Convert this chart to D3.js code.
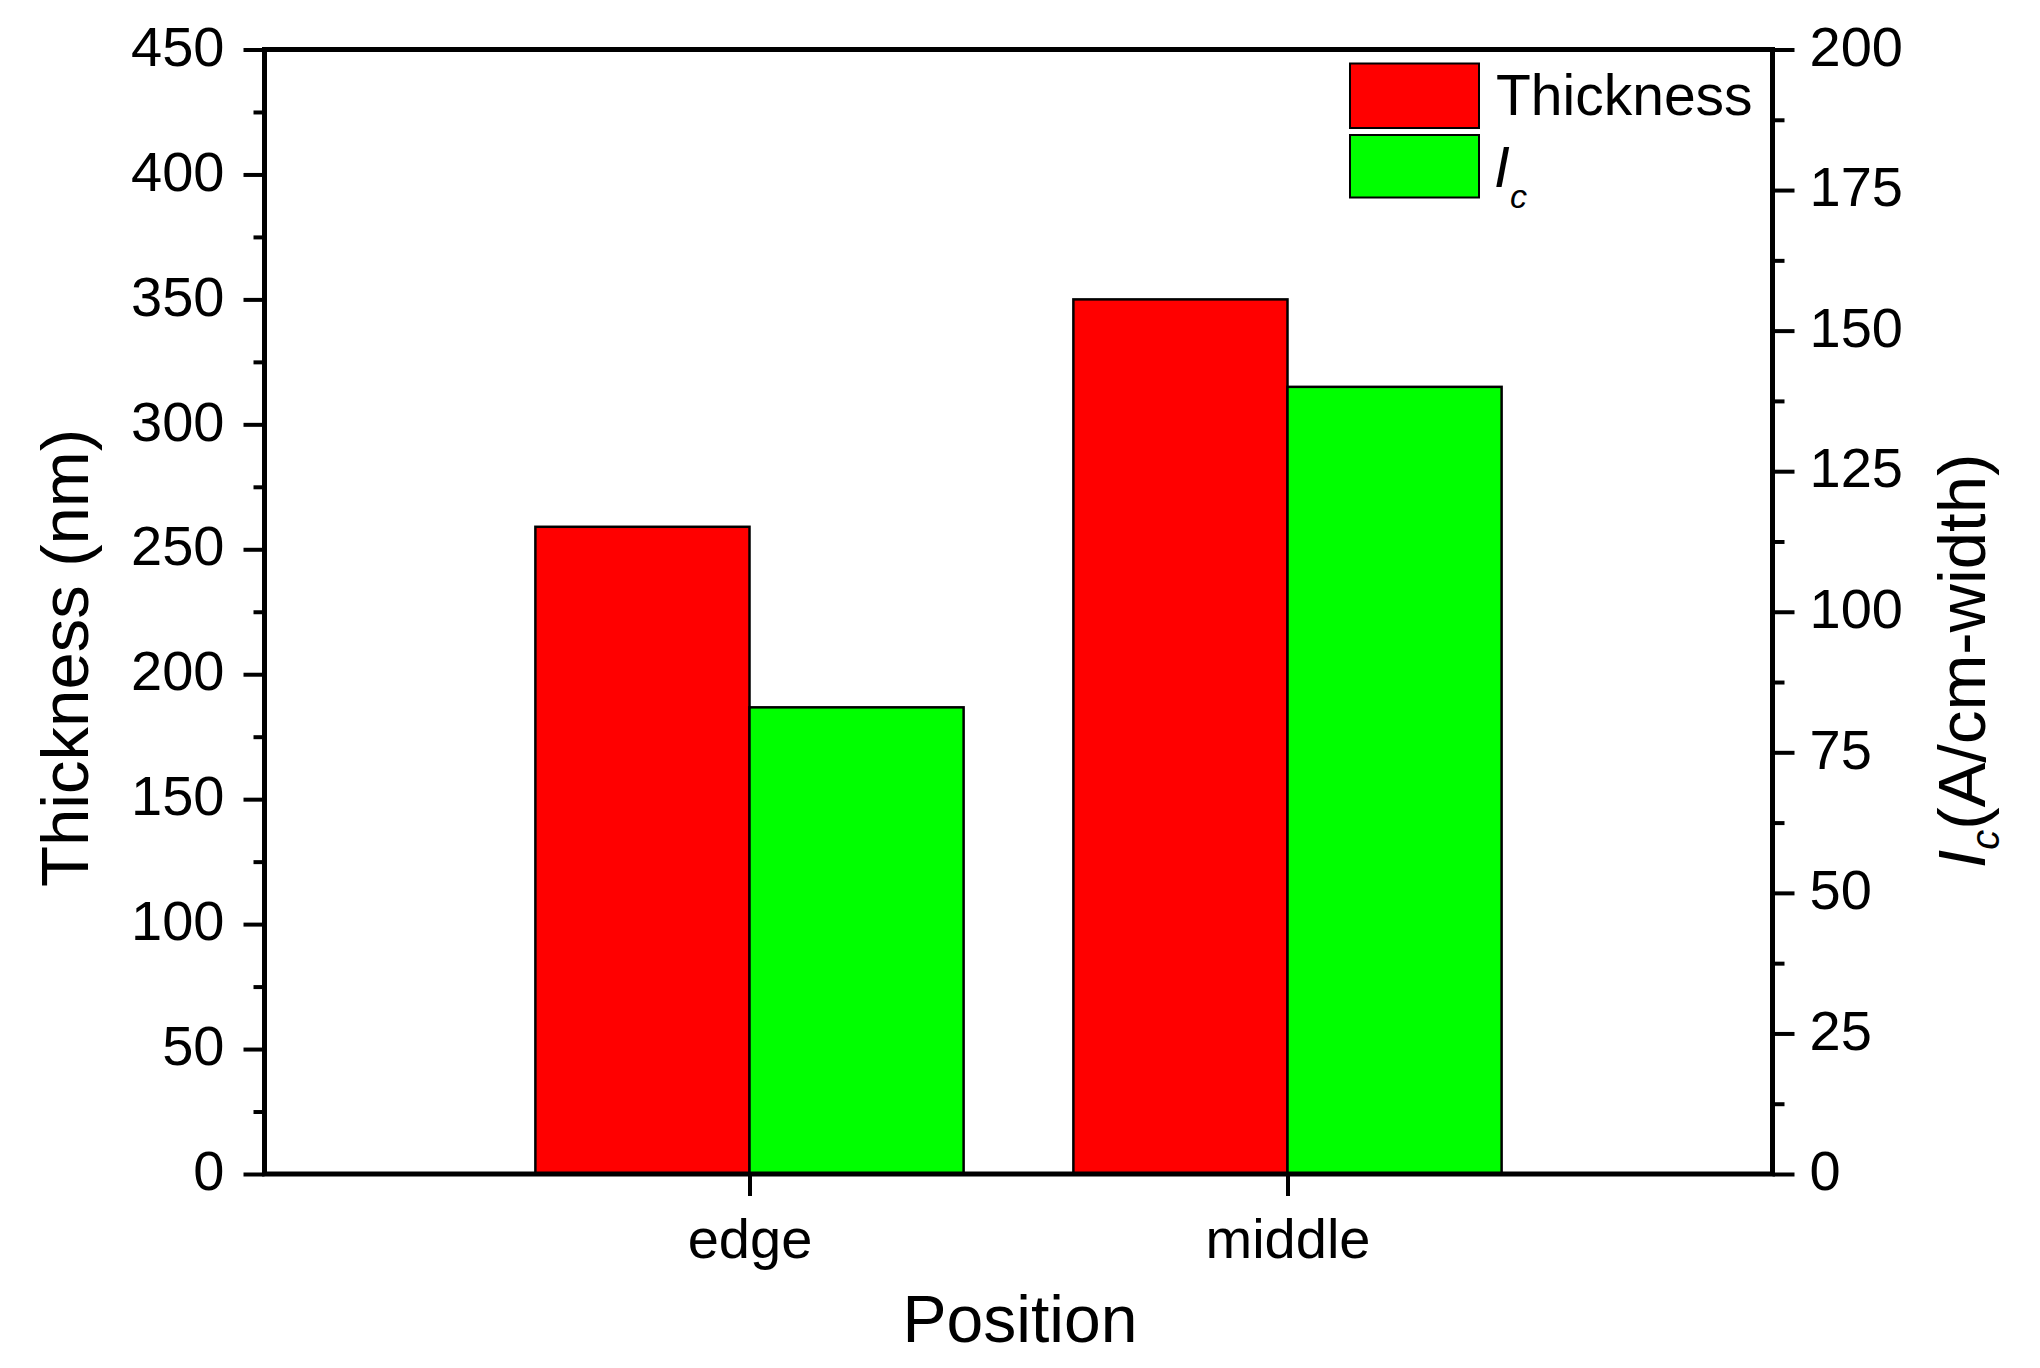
<!DOCTYPE html>
<html>
<head>
<meta charset="utf-8">
<script src="https://cdn.jsdelivr.net/npm/d3@7"></script>
<style>
  html, body { margin: 0; padding: 0; background: #fff; }
  svg { display: block; font-family: "Liberation Sans", Arial, sans-serif; }
</style>
</head>
<body>
<svg id="chart" width="2040" height="1368"></svg>
<script>
// ---- data ----
const categories = ["edge", "middle"];
const thickness = [259, 350];          // nm (left axis)
const ic = [83, 140];                  // A/cm-width (right axis)
const leftTicks = [0, 50, 100, 150, 200, 250, 300, 350, 400, 450];
const rightTicks = [0, 25, 50, 75, 100, 125, 150, 175, 200];
const seriesNames = ["Thickness", "I"];
const seriesColors = ["#ff0000", "#00ff00"];

// ---- layout ----
const L = 264.5, R = 1772.5, T = 49.5, B = 1174;
const svg = d3.select("#chart");

const x = d3.scalePoint().domain(categories).range([L, R]).padding(0.9015);
const yL = d3.scaleLinear().domain([0, 450]).range([B, T]);
const yR = d3.scaleLinear().domain([0, 200]).range([B, T]);
const barW = x.step() * 0.398;

// bars
const g = svg.append("g");
g.selectAll("rect.th").data(categories).join("rect")
  .attr("x", d => x(d) - barW)
  .attr("y", (d, i) => yL(thickness[i]))
  .attr("width", barW)
  .attr("height", (d, i) => B - yL(thickness[i]))
  .attr("fill", seriesColors[0]).attr("stroke", "#000").attr("stroke-width", 2.5);
g.selectAll("rect.ic").data(categories).join("rect")
  .attr("x", d => x(d))
  .attr("y", (d, i) => yR(ic[i]))
  .attr("width", barW)
  .attr("height", (d, i) => B - yR(ic[i]))
  .attr("fill", seriesColors[1]).attr("stroke", "#000").attr("stroke-width", 2.5);

// axes
function styleAxis(sel, fs) {
  sel.select(".domain").remove();
  sel.selectAll(".tick line").attr("stroke", "#000").attr("stroke-width", 4);
  sel.selectAll(".tick text").attr("fill", "#000").style("font-size", fs + "px")
     .style("font-family", "'Liberation Sans', Arial, sans-serif");
}
// minor ticks left
const minorL = d3.range(25, 450, 50);
svg.append("g").attr("transform", `translate(${L},0)`)
  .call(d3.axisLeft(yL).tickValues(minorL).tickSize(11).tickFormat(""))
  .call(s => styleAxis(s, 56));
svg.append("g").attr("transform", `translate(${L},0)`)
  .call(d3.axisLeft(yL).tickValues(leftTicks).tickSize(21).tickPadding(19).tickFormat(d3.format("d")))
  .call(s => styleAxis(s, 56))
  .call(s => s.selectAll(".tick text").attr("dy", "0.28em"));

const minorR = d3.range(12.5, 200, 25);
svg.append("g").attr("transform", `translate(${R},0)`)
  .call(d3.axisRight(yR).tickValues(minorR).tickSize(12).tickFormat(""))
  .call(s => styleAxis(s, 56));
svg.append("g").attr("transform", `translate(${R},0)`)
  .call(d3.axisRight(yR).tickValues(rightTicks).tickSize(22).tickPadding(15).tickFormat(d3.format("d")))
  .call(s => styleAxis(s, 56))
  .call(s => s.selectAll(".tick text").attr("dy", "0.28em"));

svg.append("g").attr("transform", `translate(0,${B})`)
  .call(d3.axisBottom(x).tickSize(22))
  .call(s => styleAxis(s, 56))
  .call(s => s.selectAll(".tick text").attr("y", 84).attr("dy", 0));

// frame
svg.append("rect").attr("x", L).attr("y", T).attr("width", R - L).attr("height", B - T)
  .attr("fill", "none").attr("stroke", "#000").attr("stroke-width", 5);

// axis titles
svg.append("text").attr("transform", "translate(88,658) rotate(-90)")
  .attr("text-anchor", "middle").style("font-size", "67px").text("Thickness (nm)");

const rt = svg.append("text").attr("transform", "translate(1985,661) rotate(-90)")
  .attr("text-anchor", "middle").style("font-size", "67px");
rt.append("tspan").style("font-style", "italic").text("I");
rt.append("tspan").style("font-style", "italic").style("font-size", "40px").attr("dy", 14).text("c");
rt.append("tspan").attr("dy", -14).text("(A/cm-width)");

svg.append("text").attr("x", 1020).attr("y", 1342).attr("text-anchor", "middle")
  .style("font-size", "66px").text("Position");

// legend
const leg = svg.append("g");
const legBoxes = [[63.5, 128], [135, 197.5]];
leg.selectAll("rect").data(seriesNames).join("rect")
  .attr("x", 1350).attr("y", (d, i) => legBoxes[i][0])
  .attr("width", 129).attr("height", (d, i) => legBoxes[i][1] - legBoxes[i][0])
  .attr("fill", (d, i) => seriesColors[i]).attr("stroke", "#000").attr("stroke-width", 2);
leg.append("text").attr("x", 1496).attr("y", 115).style("font-size", "57px").text(seriesNames[0]);
const lt = leg.append("text").attr("x", 1494).attr("y", 187).style("font-size", "57px").style("font-style", "italic");
lt.append("tspan").text(seriesNames[1]);
lt.append("tspan").attr("x", 1510).attr("y", 208).style("font-size", "34px").text("c");
</script>
</body>
</html>
